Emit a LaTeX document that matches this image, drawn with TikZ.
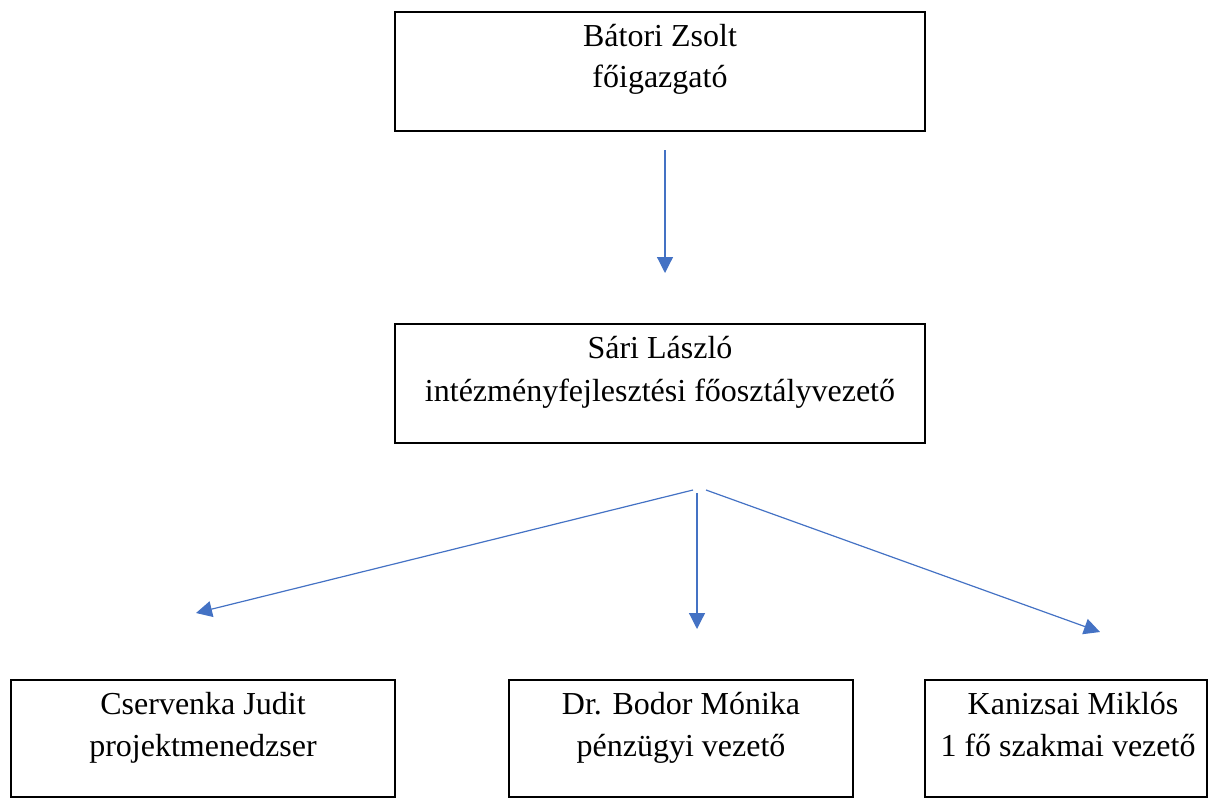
\documentclass[tikz,border=0pt]{standalone}
\usepackage{fontspec}
\setmainfont{Liberation Serif}
\usetikzlibrary{fit,arrows.meta}
\definecolor{arrowblue}{HTML}{4472C4}
\begin{document}
\begin{tikzpicture}[x=0.75pt,y=-0.75pt,
  box/.style={draw=black,line width=1.6pt,inner sep=0pt,rectangle},
  lbl/.style={anchor=base,inner sep=0pt,font=\fontsize{24}{28}\selectfont},
  conn/.style={draw=arrowblue,line width=0.9pt,-{Triangle[length=12pt,width=12pt]}}]
\useasboundingbox (0,0) rectangle (1209,799);
% boxes
\node[box,fit={(395,12) (925,131)}] (top) {};
\node[box,fit={(395,324) (925,443)}] (mid) {};
\node[box,fit={(11,680) (395,797)}] (b1) {};
\node[box,fit={(509,680) (853,797)}] (b2) {};
\node[box,fit={(925,680) (1207,797)}] (b3) {};
% texts
\node[lbl] (t1) at (660,47) {Bátori Zsolt};
\node[lbl] (t2) at (660,88) {főigazgató};
\node[lbl] (m1) at (660,358) {Sári László};
\node[lbl] (m2) at (660,401) {intézményfejlesztési főosztályvezető};
\node[lbl] (c1) at (203,714) {Cservenka Judit};
\node[lbl] (c2) at (203,756) {projektmenedzser};
\node[lbl] (d1) at (681,714) {Dr. Bodor Mónika};
\node[lbl] (d2) at (681,756) {pénzügyi vezető};
\node[lbl] (k1) at (1073,714) {Kanizsai Miklós};
\node[lbl] (k2) at (1068,756) {1 fő szakmai vezető};
% connector ends
\coordinate (a0) at (665,150);
\coordinate (a1) at (665,273);
\coordinate (sL) at (693,490);
\coordinate (sM) at (697,493);
\coordinate (sR) at (706,490);
\coordinate (eL) at (196,613);
\coordinate (eM) at (697,629);
\coordinate (eR) at (1100,632);
\draw[conn] (a0) -- (a1);
\draw[conn] (sL) -- (eL);
\draw[conn] (sM) -- (eM);
\draw[conn] (sR) -- (eR);
\end{tikzpicture}
\end{document}
